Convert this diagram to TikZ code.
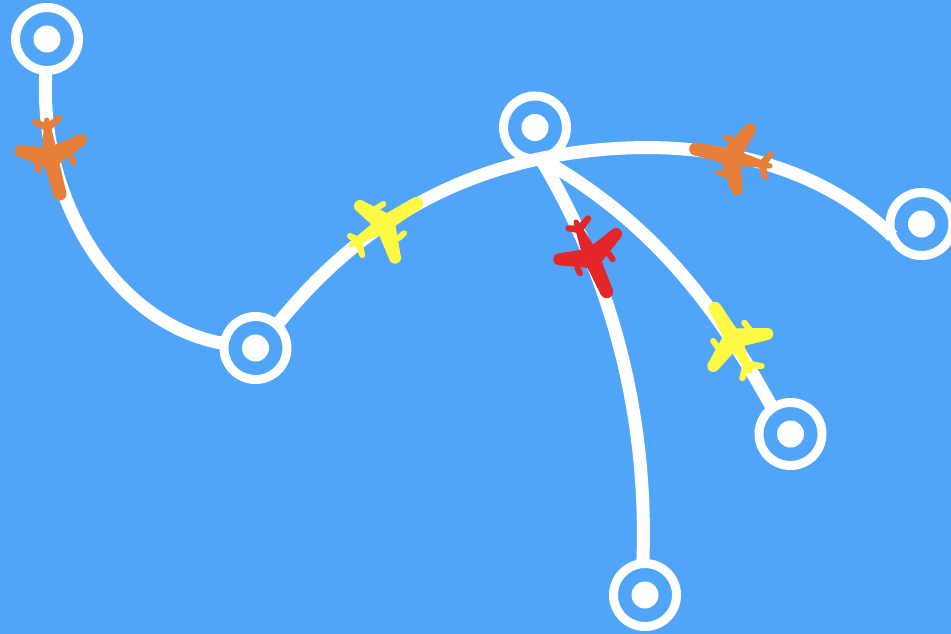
\documentclass[tikz,border=0pt]{standalone}
\usetikzlibrary{calc}
\definecolor{sky}{HTML}{50A5F9}
\definecolor{planeorange}{HTML}{E57F39}
\definecolor{planeyellow}{HTML}{FFFB45}
\definecolor{planered}{HTML}{E32728}
\tikzset{
  ring/.style={circle,draw=white,line width=9pt,fill=sky,minimum size=63pt,inner sep=0pt,outer sep=0pt},
  hubdot/.style={circle,fill=white,minimum size=27pt,inner sep=0pt,outer sep=0pt},
  route/.style={draw=white,line width=13pt},
}
% tapered limb with a rounded tip: from (a) half width wa to (b) half width wb
\newcommand{\limb}[4]{%
  \fill ($(#1)!#2pt!90:(#3)$) -- ($(#1)!#2pt!-90:(#3)$) -- ($(#3)!#4pt!90:(#1)$) -- ($(#3)!#4pt!-90:(#1)$) -- cycle;
  \fill (#3) circle[radius=#4pt];}
% colour, nose, centre, tail, wing tips, stabiliser tips, engine base/tip pairs
\newcommand{\plane}[9]{%
  \def\pcol{#1}\def\pnose{#2}\def\pcen{#3}\def\ptail{#4}\def\pwa{#5}\def\pwb{#6}\def\psa{#7}\def\psb{#8}\def\pea{#9}\planerest}
\newcommand{\planerest}[3]{%
  \begin{scope}[fill=\pcol,draw=\pcol]
    \coordinate (sr) at ($(\pcen)!.8!(\ptail)$);
    \draw[line cap=round,line width=6pt] \pea -- #1;
    \draw[line cap=round,line width=6pt] #2 -- #3;
    \limb{\pcen}{8}{\pnose}{6.5}
    \limb{\pcen}{8.5}{\ptail}{2.5}
    \limb{\pcen}{10}{\pwa}{6}
    \limb{\pcen}{10}{\pwb}{6}
    \limb{sr}{4}{\psa}{3}
    \limb{sr}{4}{\psb}{3}
  \end{scope}}
\begin{document}
\begin{tikzpicture}[x=1pt,y=-1pt]
\useasboundingbox (0,0) rectangle (951,634);
\fill[sky] (0,0) rectangle (951,634);
\node[ring] (r1) at (47,39) {};
\node[ring] (r2) at (255.5,348) {};
\node[ring] (r3) at (535,127.5) {};
\node[ring] (r4) at (921.5,224) {};
\node[ring] (r5) at (790.5,434) {};
\node[ring] (r6) at (645,595) {};
\node[hubdot] (d1) at (r1) {};
\node[hubdot] (d2) at (r2) {};
\node[hubdot] (d3) at (r3) {};
\node[hubdot] (d4) at (r4) {};
\node[hubdot] (d5) at (r5) {};
\node[hubdot] (d6) at (r6) {};
\coordinate (hub) at (r3.-80);
\draw[route] (r1.-92) .. controls (38,200) and (115,325) .. (r2.172);
\draw[route] (r2.47) .. controls (345,240) and (430,182) .. (hub);
\draw[route] (hub) .. controls (650,136) and (795,142) .. (r4.203);
\draw[route] (hub) .. controls (590,240) and (650,380) .. (r6.94);
\draw[route] (hub) .. controls (650,220) and (716,305) .. (r5.125);
\plane{planeorange}{60,194}{50,158}{46.7,120}{20.7,151}{81,140}{35,122}{59.3,118}{(36.7,163)}{(38.3,170)}{(71.7,157)}{(73.3,163)}
\plane{planeyellow}{416.7,203.3}{385,223.3}{351,245}{360,206}{395,257.7}{350,236}{362.3,255}{(375,209.3)}{(383.3,204)}{(398.3,238.3)}{(404,233.3)}
\plane{planered}{606.7,291.7}{591.7,258.3}{576,222}{559.3,259.3}{616,234}{568.3,228.3}{588.3,218.3}{(577.3,268.3)}{(580,273.3)}{(608.3,253.3)}{(612.7,259.3)}
\plane{planeorange}{695.7,149}{730,156.7}{770,166}{750,129.3}{736.7,189.3}{770.7,154.3}{765,177.3}{(736.7,141.7)}{(726,137.7)}{(728,175)}{(718.3,172.7)}
\plane{planeyellow}{715,308.3}{733.3,338.3}{750,371}{767.3,334}{713.3,366}{761.7,366}{742.3,378.3}{(750,330)}{(744.3,322.7)}{(718.3,348.3)}{(713.3,341)}
\end{tikzpicture}
\end{document}
